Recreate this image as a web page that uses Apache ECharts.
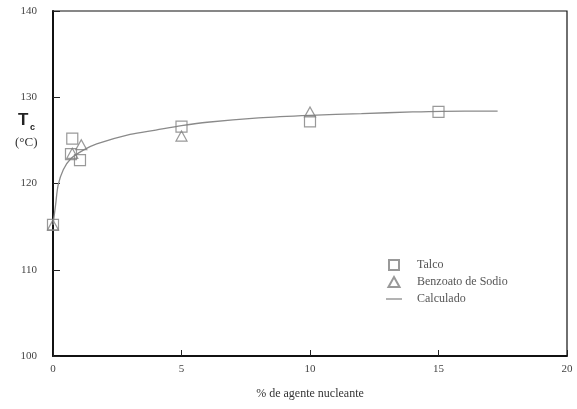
<!DOCTYPE html>
<html>
<head>
<meta charset="utf-8">
<script src="https://cdn.jsdelivr.net/npm/echarts@6/dist/echarts.min.js"></script>
<style>
  html, body { margin: 0; padding: 0; background: #fff; }
  #chart { width: 577px; height: 409px; }
</style>
</head>
<body>
<div id="chart"></div>
<script>
// valores (% agente, Tc en °C)
const talco = [[0, 115.2], [0.75, 125.2], [0.7, 123.4], [1.05, 122.7], [5, 126.6], [10, 127.2], [15, 128.3]]
const benzoato = [[0, 115.2], [0.75, 123.5], [1.1, 124.5], [5, 125.5], [10, 128.3]]
const calculado = [[0, 115.2], [0.1, 117.5], [0.2, 119.8], [0.4, 121.6], [0.7, 122.9], [1.2, 123.9], [1.7, 124.6],
  [3, 125.7], [4, 126.2], [5, 126.7], [6, 127.1], [8, 127.6], [10, 127.9], [12, 128.1], [14, 128.3], [16, 128.4], [17.3, 128.4]]
const xTicks = [0, 5, 10, 15, 20]
const yTicks = [100, 110, 120, 130, 140]

const serif = '"Liberation Serif", "DejaVu Serif", serif'
const grey = '#444'

const myChart = echarts.init(document.getElementById('chart'))
const option = {
  animation: false,
  grid: {
    left: 53,
    right: 10,
    top: 11,
    bottom: 53,
    show: true,
    borderColor: '#111',
    borderWidth: 1.2
  },
  legend: {
    orient: 'vertical',
    left: 381,
    top: 254,
    itemWidth: 16,
    itemHeight: 10,
    itemGap: 5,
    textStyle: {
      fontFamily: serif,
      fontSize: 12,
      color: '#555',
      padding: [0, 0, 0, 10]
    },
    data: [
      { name: 'Talco', icon: 'path://M0,0 L10,0 L10,10 L0,10 Z' },
      { name: 'Benzoato de Sodio', icon: 'path://M5,0 L10,9 L0,9 Z' },
      { name: 'Calculado', icon: 'path://M0,0 L18,0 L18,1 L0,1 Z', itemStyle: { color: '#555', borderWidth: 0 } }
    ]
  },
  xAxis: {
    type: 'value',
    min: xTicks[0],
    max: xTicks[xTicks.length - 1],
    interval: 5,
    name: '% de agente nucleante',
    nameLocation: 'middle',
    nameGap: 32,
    nameTextStyle: { fontFamily: serif, fontSize: 12, color: '#333' },
    axisLine: { show: true, lineStyle: { color: '#111', width: 1.8 } },
    axisTick: { show: true, inside: true, length: 6, lineStyle: { color: '#222' } },
    axisLabel: { fontFamily: serif, fontSize: 11, color: grey, margin: 8 },
    splitLine: { show: false }
  },
  yAxis: {
    type: 'value',
    min: yTicks[0],
    max: yTicks[yTicks.length - 1],
    interval: 10,
    axisLine: { show: true, lineStyle: { color: '#111', width: 2 } },
    axisTick: { show: true, inside: true, length: 7, lineStyle: { color: '#222' } },
    axisLabel: { fontFamily: serif, fontSize: 11, color: grey, margin: 16 },
    splitLine: { show: false }
  },
  graphic: [
    {
      type: 'text',
      left: 18,
      top: 112,
      style: { text: 'T', font: 'bold 17px "Liberation Sans", Arial, sans-serif', fill: '#222' }
    },
    {
      type: 'text',
      left: 30,
      top: 123,
      style: { text: 'c', font: 'bold 9px "Liberation Sans", Arial, sans-serif', fill: '#222' }
    },
    {
      type: 'text',
      left: 15,
      top: 136,
      style: { text: '(°C)', font: '13px "Liberation Serif", serif', fill: '#333' }
    }
  ],
  series: [
    {
      name: 'Calculado',
      type: 'line',
      data: calculado,
      smooth: 0.3,
      symbol: 'none',
      lineStyle: { color: '#8a8a8a', width: 1.3 },
      itemStyle: { color: '#555' },
      z: 1
    },
    {
      name: 'Talco',
      type: 'scatter',
      data: talco,
      symbol: 'rect',
      symbolSize: 11,
      itemStyle: { color: 'rgba(255,255,255,0)', borderColor: '#808080', borderWidth: 1.2 },
      z: 3
    },
    {
      name: 'Benzoato de Sodio',
      type: 'scatter',
      data: benzoato,
      symbol: 'triangle',
      symbolSize: [11, 10],
      itemStyle: { color: 'rgba(255,255,255,0)', borderColor: '#808080', borderWidth: 1.2 },
      z: 3
    }
  ]
}
myChart.setOption(option)
</script>
</body>
</html>
